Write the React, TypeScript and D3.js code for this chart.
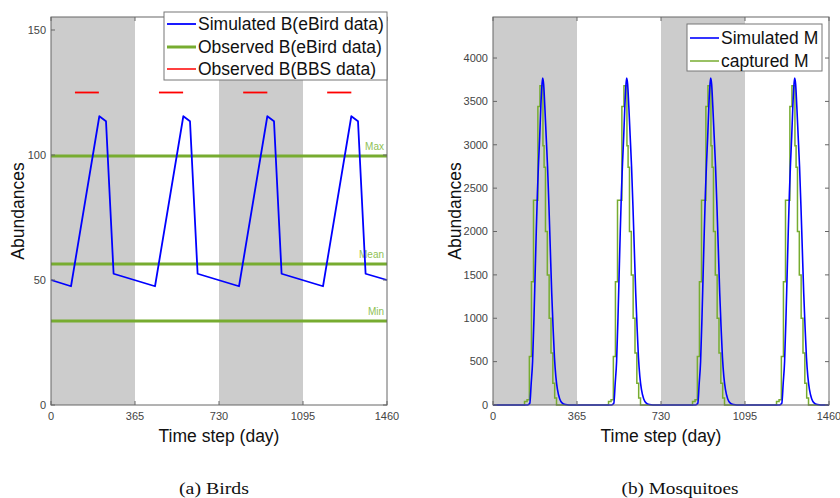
import React, { useEffect, useRef } from 'react';
import * as d3 from 'd3';

// time axis
const xTicks = [0, 365, 730, 1095, 1460];
const winterBands = [[0, 365], [730, 1095]];

// (a) birds
const birdTicks = [0, 50, 100, 150];
const birdDays = [0, 87, 210, 239, 272, 452, 575, 604, 637, 817, 940, 969, 1002, 1182, 1305, 1334, 1367, 1460];
const birdSim = [50, 47.5, 115.5, 113.5, 52.5, 47.5, 115.5, 113.5, 52.5, 47.5, 115.5, 113.5, 52.5, 47.5, 115.5, 113.5, 52.5, 50];
const ebirdLevels = [99.6, 56.4, 33.6];
const ebirdNames = ['Max', 'Mean', 'Min'];
const bbsStart = [104, 469, 835, 1200];
const bbsEnd = [208, 574, 940, 1305];
const bbsValue = 125;

// (b) mosquitoes, one season profile seen in each of the four years
const seasonStarts = [0, 365, 730, 1095];
const mosqTicks = [0, 500, 1000, 1500, 2000, 2500, 3000, 3500, 4000];
const simDays = [0, 150, 160, 166, 172, 178, 183, 188, 193, 198, 203, 208, 213, 216, 220, 225, 231, 237, 243, 249, 255, 261, 267, 273, 280, 290, 300, 315, 330, 365];
const simVals = [0, 0, 20, 250, 500, 1000, 1500, 2000, 2450, 2800, 3100, 3450, 3700, 3770, 3700, 3450, 3100, 2750, 2300, 1800, 1300, 900, 550, 330, 180, 70, 25, 5, 0, 0];
const capDays = [0, 137, 148, 158, 167, 176, 195, 204, 217, 222, 228, 236, 244, 252, 260, 268, 276, 365];
const capVals = [0, 40, 60, 560, 1420, 2360, 3440, 3680, 2990, 2740, 2000, 1500, 1000, 600, 250, 80, 0, 0];

const BLUE = '#0000ff';
const GREEN = '#77ac30';
const RED = '#ff0000';
const BAND = '#cccccc';
const SANS = '"Liberation Sans", Arial, Helvetica, sans-serif';

const App = () => {
  const svgRef = useRef<SVGSVGElement>(null);

  useEffect(() => {
    const svg = d3.select(svgRef.current);
    svg.selectAll('*').remove();

    const top = 17, bottom = 405;

    const drawPanel = (left: number, right: number, yMax: number) => {
      const x = d3.scaleLinear().domain([0, 1460]).range([left, right]);
      const y = d3.scaleLinear().domain([0, yMax]).range([bottom, top]);
      const g = svg.append('g');

      // shaded years
      winterBands.forEach(([a, b]) => {
        g.append('rect')
          .attr('x', x(a)).attr('y', top)
          .attr('width', x(b) - x(a)).attr('height', bottom - top)
          .attr('fill', BAND);
      });
      return { x, y, g };
    };

    const drawFrame = (p: any, left: number, right: number, yTicks: number[], label: string, labelX: number) => {
      const { x, y, g } = p;
      const f = g.append('g');
      f.append('rect')
        .attr('x', left).attr('y', top)
        .attr('width', right - left).attr('height', bottom - top)
        .attr('fill', 'none').attr('stroke', '#666').attr('stroke-width', 1);

      xTicks.forEach(t => {
        f.append('line').attr('x1', x(t)).attr('x2', x(t)).attr('y1', bottom).attr('y2', bottom - 4)
          .attr('stroke', '#666');
        f.append('line').attr('x1', x(t)).attr('x2', x(t)).attr('y1', top).attr('y2', top + 4)
          .attr('stroke', '#666');
        f.append('text').attr('x', x(t)).attr('y', bottom + 15)
          .attr('text-anchor', 'middle').attr('font-family', SANS).attr('font-size', 11)
          .attr('fill', '#444').text(t);
      });
      yTicks.forEach(t => {
        f.append('line').attr('x1', left).attr('x2', left + 4).attr('y1', y(t)).attr('y2', y(t))
          .attr('stroke', '#666');
        f.append('line').attr('x1', right).attr('x2', right - 4).attr('y1', y(t)).attr('y2', y(t))
          .attr('stroke', '#666');
        f.append('text').attr('x', left - 5).attr('y', y(t)).attr('dy', '0.35em')
          .attr('text-anchor', 'end').attr('font-family', SANS).attr('font-size', 11)
          .attr('fill', '#444').text(t);
      });

      f.append('text')
        .attr('x', (left + right) / 2).attr('y', 442)
        .attr('text-anchor', 'middle').attr('font-family', SANS).attr('font-size', 17.5)
        .attr('fill', '#111').text('Time step (day)');
      f.append('text')
        .attr('transform', `translate(${labelX},${(top + bottom) / 2}) rotate(-90)`)
        .attr('text-anchor', 'middle').attr('font-family', SANS).attr('font-size', 17.5)
        .attr('fill', '#111').text(label);
    };

    const drawLegend = (bx: number, by: number, bw: number, bh: number, items: { name: string, color: string, width: number }[], rowY: number[]) => {
      const lg = svg.append('g');
      lg.append('rect').attr('x', bx).attr('y', by).attr('width', bw).attr('height', bh)
        .attr('fill', '#fff').attr('stroke', '#777').attr('stroke-width', 1);
      items.forEach((it, i) => {
        lg.append('line').attr('x1', bx + 3).attr('x2', bx + 32).attr('y1', rowY[i]).attr('y2', rowY[i])
          .attr('stroke', it.color).attr('stroke-width', it.width);
        lg.append('text').attr('x', bx + 34).attr('y', rowY[i]).attr('dy', '0.36em')
          .attr('font-family', SANS).attr('font-size', 17.5).attr('fill', '#111').text(it.name);
      });
    };

    // ---- (a) Birds
    const L = drawPanel(51, 387, 155.2);
    ebirdLevels.forEach((v, i) => {
      L.g.append('line').attr('x1', 51).attr('x2', 387).attr('y1', L.y(v)).attr('y2', L.y(v))
        .attr('stroke', GREEN).attr('stroke-width', 3);
      L.g.append('text').attr('x', 384).attr('y', L.y(v) - 6)
        .attr('text-anchor', 'end').attr('font-family', SANS).attr('font-size', 10)
        .attr('fill', '#8fbf55').text(ebirdNames[i]);
    });
    bbsStart.forEach((s, i) => {
      L.g.append('line').attr('x1', L.x(s)).attr('x2', L.x(bbsEnd[i]))
        .attr('y1', L.y(bbsValue)).attr('y2', L.y(bbsValue))
        .attr('stroke', RED).attr('stroke-width', 1.8);
    });
    const birdLine = d3.line<number>()
      .x((d, i) => L.x(birdDays[i]))
      .y(d => L.y(d));
    L.g.append('path').attr('d', birdLine(birdSim)).attr('fill', 'none')
      .attr('stroke', BLUE).attr('stroke-width', 1.8).attr('stroke-linejoin', 'round');
    drawFrame(L, 51, 387, birdTicks, 'Abundances', 24);

    // ---- (b) Mosquitoes
    const R = drawPanel(493, 829, 4473);
    const simPts = seasonStarts.flatMap(s => simDays.map((d, i) => [s + d, simVals[i]] as [number, number]));
    const capPts = seasonStarts.flatMap(s => capDays.map((d, i) => [s + d, capVals[i]] as [number, number]));
    const capLine = d3.line<[number, number]>()
      .x(d => R.x(d[0])).y(d => R.y(d[1]))
      .curve(d3.curveStepAfter);
    const simLine = d3.line<[number, number]>()
      .x(d => R.x(d[0])).y(d => R.y(d[1]))
      .curve(d3.curveMonotoneX);
    R.g.append('path').attr('d', capLine(capPts)).attr('fill', 'none')
      .attr('stroke', GREEN).attr('stroke-width', 1.5);
    R.g.append('path').attr('d', simLine(simPts)).attr('fill', 'none')
      .attr('stroke', BLUE).attr('stroke-width', 1.6);
    drawFrame(R, 493, 829, mosqTicks, 'Abundances', 461);

    drawLegend(164, 12, 223, 68, [
      { name: 'Simulated B(eBird data)', color: BLUE, width: 1.8 },
      { name: 'Observed B(eBird data)', color: GREEN, width: 3 },
      { name: 'Observed B(BBS data)', color: RED, width: 1.5 },
    ], [24, 47, 69]);
    drawLegend(687, 24, 135, 47, [
      { name: 'Simulated M', color: BLUE, width: 1.6 },
      { name: 'captured M', color: GREEN, width: 1.5 },
    ], [38, 61]);

    // captions
    [['(a) Birds', 214, 70], ['(b) Mosquitoes', 680, 117]].forEach(([t, cx, len]) => {
      svg.append('text').attr('x', cx as number).attr('y', 494)
        .attr('text-anchor', 'middle')
        .attr('font-family', '"Liberation Serif", "Times New Roman", serif')
        .attr('font-size', 17).attr('fill', '#111')
        .attr('textLength', len as number).attr('lengthAdjust', 'spacingAndGlyphs')
        .text(t as string);
    });
  }, []);

  return (
    <svg ref={svgRef} width={840} height={498}
      style={{ position: 'absolute', left: 0, top: 0, background: '#fff' }} />
  );
};

export default App;
